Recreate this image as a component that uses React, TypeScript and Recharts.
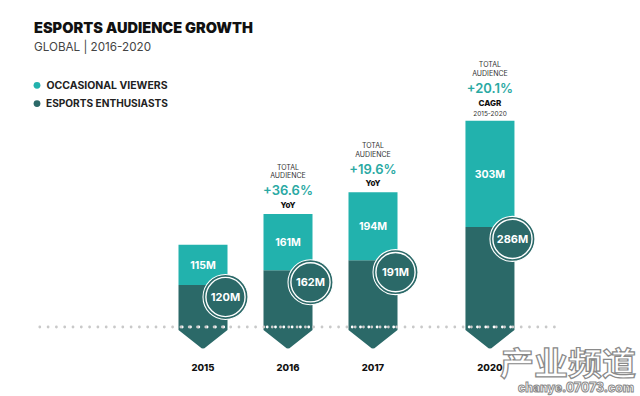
import React from 'react';
import { ComposedChart, Bar, XAxis, YAxis, ReferenceLine, LabelList } from 'recharts';

// ---- data ----
const years = ['2015', '2016', '2017', '2020'];
const enthusiasts = [120, 162, 191, 286];
const occasional = [115, 161, 194, 303];
const growthValue = ['', '+36.6%', '+19.6%', '+20.1%'];
const growthBasis = ['', 'YoY', 'YoY', 'CAGR'];
const growthPeriod = ['', '', '', '2015-2020'];
const seriesNames = ['OCCASIONAL VIEWERS', 'ESPORTS ENTHUSIASTS'];

// ---- styles / layout ----
const LIGHT = '#22b2ad';
const DARK = '#2b6968';
const FONT = 'Inter, "Noto Sans", sans-serif';
// 2018 and 2019 are not shown; the gap before 2020 is compressed
const slotOf = (i: number) => (years[i] === '2020' ? 3.376 : i);

const data = years.map((y, i) => ({
  year: y,
  slot: slotOf(i),
  enthusiasts: enthusiasts[i],
  occasional: occasional[i],
}));
const slots = data.map((d) => d.slot);

const ArrowBar = (props: any) => {
  const { x, y, width, height } = props;
  if (x == null || !width) return null;
  const b = y + height;
  const cx = x + width / 2;
  const d = `M${x},${y} H${x + width} V${b + 3} L${cx + 3},${b + 20} Q${cx},${b + 23} ${cx - 3},${b + 20} L${x},${b + 3} Z`;
  const dots = [];
  for (let k = 0; k < 6; k++) {
    dots.push(<circle key={k} cx={x + 3.7 + k * 8.3} cy={b} r={1.4} fill="#ffffff" />);
  }
  return (
    <g>
      <path d={d} fill={DARK} />
      {dots}
    </g>
  );
};

const TopLabels = (props: any) => {
  const { x, y, width, height, index } = props;
  if (x == null) return null;
  const i = index;
  const cx = x + width / 2;
  const boundary = y + height;
  const ccx = x + width - 2;
  const ccy = boundary + 12;
  const top = y;
  const ann: any[] = [];
  if (growthValue[i]) {
    const five = !!growthPeriod[i];
    const o = five ? 9.5 : 0;
    ann.push(
      <text key="t" x={cx} y={top - 44 - o} textAnchor="middle" fontSize={7} fill="#333" fontFamily={FONT}>TOTAL</text>,
      <text key="a" x={cx} y={top - 35.5 - o} textAnchor="middle" fontSize={7} fill="#333" fontFamily={FONT}>AUDIENCE</text>,
      <text key="p" x={cx} y={top - 18.5 - o} textAnchor="middle" fontSize={13} fontWeight={600} fill="#2aa9a3" fontFamily={FONT}>{growthValue[i]}</text>,
      <text key="b" x={cx} y={top - (five ? 15 : 6.2)} textAnchor="middle" fontSize={8} fontWeight={800} fill="#111" fontFamily={FONT}>{growthBasis[i]}</text>
    );
    if (five) {
      ann.push(
        <text key="pp" x={cx} y={top - 5} textAnchor="middle" fontSize={6.5} fill="#333" fontFamily={FONT}>{growthPeriod[i]}</text>
      );
    }
  }
  return (
    <g>
      <text x={cx} y={y + height / 2 + 3.8} textAnchor="middle" fontSize={10.5} fontWeight={700} fill="#ffffff" fontFamily={FONT}>
        {`${occasional[i]}M`}
      </text>
      <circle cx={ccx} cy={ccy} r={22.5} fill={DARK} stroke="#ffffff" strokeWidth={1.1} />
      <circle cx={ccx} cy={ccy} r={19.6} fill="none" stroke="#ffffff" strokeWidth={1.4} />
      <text x={ccx} y={ccy + 4} textAnchor="middle" fontSize={11} fontWeight={700} fill="#ffffff" fontFamily={FONT}>
        {`${enthusiasts[i]}M`}
      </text>
      {ann}
    </g>
  );
};

const YearTick = (props: any) => {
  const { x, y, payload } = props;
  const idx = slots.indexOf(payload.value);
  return (
    <text x={x} y={y + 1} textAnchor="middle" fontSize={9.5} fontWeight={800} fill="#111" fontFamily={FONT}>
      {idx >= 0 ? years[idx] : ''}
    </text>
  );
};

export default function App() {
  return (
    <div style={{ position: 'absolute', left: 0, top: 0, width: 640, height: 396, background: '#fff' }}>
      <ComposedChart width={640} height={396} data={data} margin={{ top: 82, right: 12, left: 33, bottom: 39 }}>
        <XAxis
          type="number"
          dataKey="slot"
          domain={[-2, 5]}
          ticks={slots}
          interval={0}
          axisLine={false}
          tickLine={false}
          tickSize={0}
          tick={<YearTick />}
          tickMargin={43}
          height={30}
          allowDataOverflow
        />
        <YAxis hide domain={[0, 700]} />
        <ReferenceLine
          segment={[{ x: -1.92, y: 0 }, { x: 4.14, y: 0 }]}
          stroke="#c9c9c9"
          strokeWidth={2.8}
          strokeDasharray="0 8.3"
          strokeLinecap="round"
          ifOverflow="visible"
        />
        <Bar dataKey="enthusiasts" name={seriesNames[1]} stackId="a" barSize={49} fill={DARK} shape={<ArrowBar />} isAnimationActive={false} />
        <Bar dataKey="occasional" name={seriesNames[0]} stackId="a" barSize={49} fill={LIGHT} isAnimationActive={false}>
          <LabelList dataKey="occasional" content={<TopLabels />} />
        </Bar>
      </ComposedChart>
      <svg width={640} height={396} style={{ position: 'absolute', left: 0, top: 0, pointerEvents: 'none' }}>
        <text x={34} y={32.7} fontSize={14.5} fontWeight={900} fill="#111" fontFamily={FONT} textLength={219} lengthAdjust="spacingAndGlyphs">
          ESPORTS AUDIENCE GROWTH
        </text>
        <text x={34} y={51} fontSize={12} fill="#444" fontFamily={FONT} textLength={117} lengthAdjust="spacingAndGlyphs">
          GLOBAL | 2016-2020
        </text>
        <circle cx={37} cy={85.3} r={3.4} fill={LIGHT} />
        <text x={46.5} y={89} fontSize={10} fontWeight={700} fill="#222" fontFamily={FONT} textLength={121} lengthAdjust="spacingAndGlyphs">
          {seriesNames[0]}
        </text>
        <circle cx={37} cy={103.6} r={3.4} fill={DARK} />
        <text x={46} y={107.3} fontSize={10} fontWeight={700} fill="#222" fontFamily={FONT} textLength={122} lengthAdjust="spacingAndGlyphs">
          {seriesNames[1]}
        </text>
        <text x={500} y={375} fontSize={32} fontWeight={700} fill="#ffffff" stroke="#8a8a8a" strokeWidth={1.2} fontFamily='"Noto Sans CJK SC", sans-serif' textLength={136} lengthAdjust="spacingAndGlyphs">
          产业频道
        </text>
        <text x={518} y={392} fontSize={12.5} fontWeight={800} fill="#ffffff" stroke="#8a8a8a" strokeWidth={1} fontFamily={FONT} textLength={116} lengthAdjust="spacingAndGlyphs">
          chanye.07073.com
        </text>
      </svg>
    </div>
  );
}
